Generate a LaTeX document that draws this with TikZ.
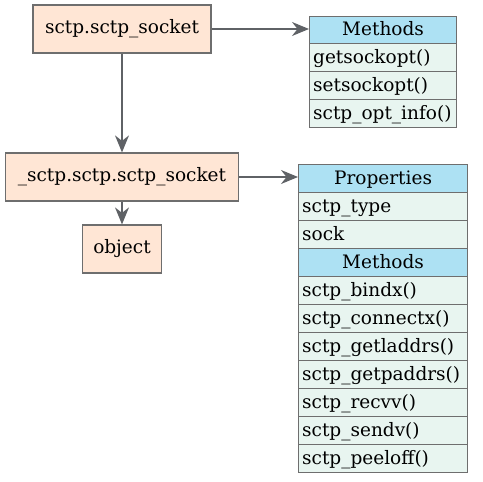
\documentclass[tikz,border=0pt]{standalone}
\usepackage{fontspec}
\setmainfont{DejaVu Serif}
\usetikzlibrary{arrows.meta}
\definecolor{boxfill}{HTML}{FFE6D5}
\definecolor{edge}{HTML}{6E6E6E}
\definecolor{arrowc}{HTML}{5F6266}
\definecolor{headfill}{HTML}{ADE1F3}
\definecolor{rowfill}{HTML}{E8F5F0}
\tikzset{
  txt/.style={font=\fontsize{18.5}{22}\selectfont},
  cls/.style={draw=edge, fill=boxfill, line width=1.2pt, inner sep=0pt, txt},
  head/.style={draw=edge, fill=headfill, line width=1.2pt, inner sep=0pt},
  row/.style={draw=edge, fill=rowfill, line width=1.2pt, inner sep=0pt},
  lbl/.style={anchor=base west, inner sep=0pt, txt},
  hlbl/.style={anchor=base, inner sep=0pt, txt},
  link/.style={draw=arrowc, line width=1.3pt, -{Stealth[length=17pt,width=14pt,inset=5.5pt]}}
}
\begin{document}
\begin{tikzpicture}[x=1pt,y=-1pt]
\useasboundingbox (0,0) rectangle (483,482);
% class boxes
\node[cls, minimum width=178pt, minimum height=48pt] (s1) at (122,29) {sctp.sctp\_socket};
\node[cls, minimum width=233pt, minimum height=48pt] (s2) at (122,177) {\_sctp.sctp.sctp\_socket};
\node[cls, minimum width=79pt, minimum height=48pt] (obj) at (122,249) {object};
% table 1
\node[head, minimum width=147pt, minimum height=27pt, anchor=north west] (m1h) at (309,16) {};
\node[hlbl] (m1ht) at ([yshift=-19.5pt]m1h.north) {Methods};
\foreach \t [count=\i] in {getsockopt(), setsockopt(), sctp\_opt\_info()} {
  \node[row, minimum width=147pt, minimum height=28pt, anchor=north west] (m1r\i) at (309,{43+28*(\i-1)}) {};
  \node[lbl] (m1t\i) at ([xshift=4pt,yshift=-20.5pt]m1r\i.north west) {\t};
}
% table 2
\node[head, minimum width=169pt, minimum height=28pt, anchor=north west] (p2h) at (298,164) {};
\node[hlbl] (p2ht) at ([yshift=-20pt]p2h.north) {Properties};
\foreach \t [count=\i] in {sctp\_type, sock} {
  \node[row, minimum width=169pt, minimum height=28pt, anchor=north west] (p2r\i) at (298,{192+28*(\i-1)}) {};
  \node[lbl] (p2t\i) at ([xshift=4pt,yshift=-20.5pt]p2r\i.north west) {\t};
}
\node[head, minimum width=169pt, minimum height=28pt, anchor=north west] (m2h) at (298,248) {};
\node[hlbl] (m2ht) at ([yshift=-20pt]m2h.north) {Methods};
\foreach \t [count=\i] in {sctp\_bindx(), sctp\_connectx(), sctp\_getladdrs(), sctp\_getpaddrs(), sctp\_recvv(), sctp\_sendv(), sctp\_peeloff()} {
  \node[row, minimum width=169pt, minimum height=28pt, anchor=north west] (m2r\i) at (298,{276+28*(\i-1)}) {};
  \node[lbl] (m2t\i) at ([xshift=4pt,yshift=-20.5pt]m2r\i.north west) {\t};
}
% connectors
\draw[link] (s1.east) -- (m1h.west |- s1.east);
\draw[link] (s1.south) -- (s2.north);
\draw[link] (s2.east) -- (p2h.west |- s2.east);
\draw[link] (s2.south) -- (obj.north);
\end{tikzpicture}
\end{document}
